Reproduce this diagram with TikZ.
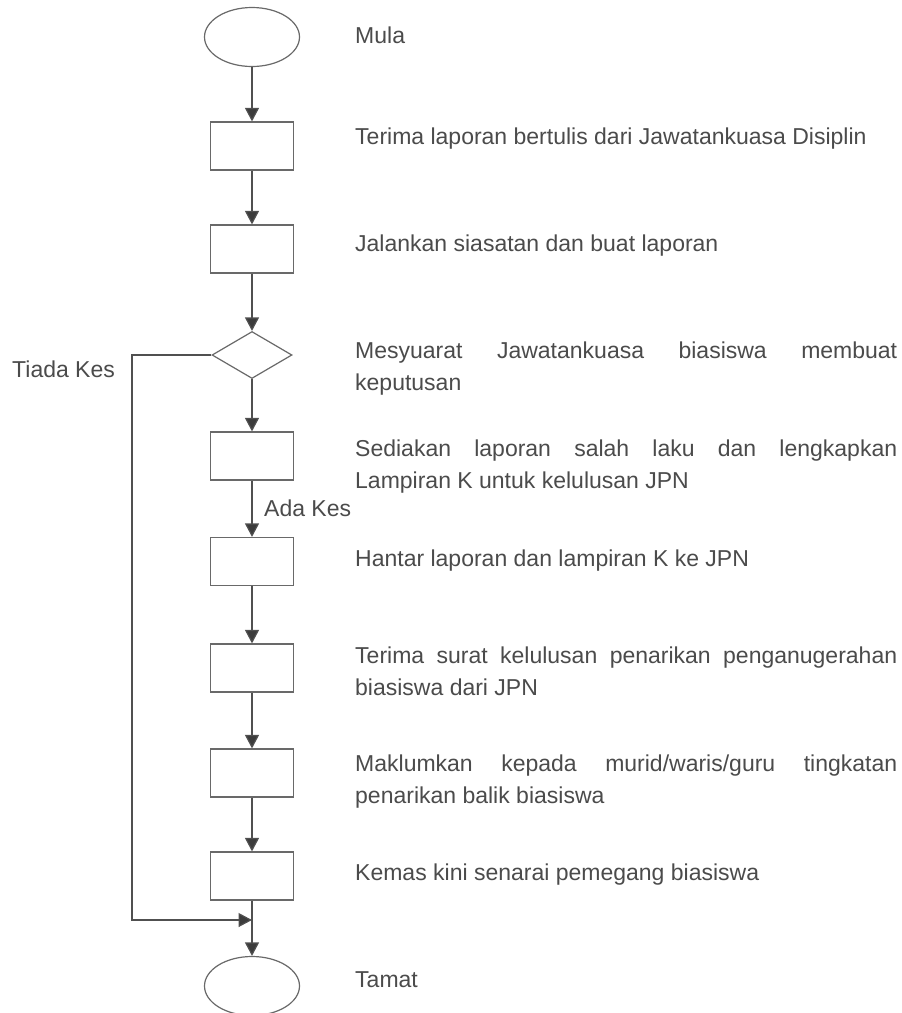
\documentclass[tikz,border=0pt]{standalone}
\usepackage{fontspec}
\setmainfont{Liberation Sans}
\usetikzlibrary{shapes.geometric,arrows.meta}
\definecolor{ln}{RGB}{80,80,80}
\definecolor{bx}{RGB}{105,105,105}
\definecolor{tipc}{RGB}{60,60,60}
\definecolor{txt}{RGB}{75,75,75}
\begin{document}
\begin{tikzpicture}[x=1pt,y=-1pt,
  shp/.style={draw=bx,line width=1.2pt,inner sep=0pt},
  term/.style={shp,ellipse,minimum width=95pt,minimum height=59pt},
  stepbox/.style={shp,rectangle,minimum width=83pt,minimum height=48pt},
  dec/.style={shp,diamond,minimum width=80pt,minimum height=47pt},
  conn/.style={draw=ln,line width=1.2pt,-{Triangle[length=13.5pt,width=14pt,fill=tipc]}},
  lbl/.style={anchor=base west,inner sep=0pt,text=txt,font=\fontsize{23}{32}\selectfont},
  desc/.style={lbl,text width=542pt,align=justify}]
\useasboundingbox (0,0) rectangle (902,1013);
\fill[white] (0,0) rectangle (902,1013);
% shapes
\node[term] (start) at (252,37) {};
\node[stepbox] (b1) at (252,146) {};
\node[stepbox] (b2) at (252,249) {};
\node[dec] (d) at (252,355) {};
\node[stepbox] (b3) at (252,456) {};
\node[stepbox] (b4) at (252,561.5) {};
\node[stepbox] (b5) at (252,668) {};
\node[stepbox] (b6) at (252,773) {};
\node[stepbox] (b7) at (252,876) {};
\node[term] (end) at (252,986) {};
\coordinate (m) at (252,920);
\coordinate (c1) at (132,355);
\coordinate (c2) at (132,920);
% connectors
\draw[conn] (start) -- (b1);
\draw[conn] (b1) -- (b2);
\draw[conn] (b2) -- (d);
\draw[conn] (d) -- (b3);
\draw[conn] (b3) -- (b4);
\draw[conn] (b4) -- (b5);
\draw[conn] (b5) -- (b6);
\draw[conn] (b6) -- (b7);
\draw[conn] (b7) -- (end);
\draw[conn] (d.west) -- (c1) -- (c2) -- (m);
% labels
\node[lbl] (tMula) at (355,43) {Mula};
\node[lbl] (t1) at (355,144) {Terima laporan bertulis dari Jawatankuasa Disiplin};
\node[lbl] (t2) at (355,251) {Jalankan siasatan dan buat laporan};
\node[desc] (t3) at (355,358) {Mesyuarat Jawatankuasa biasiswa membuat\linebreak keputusan};
\node[desc] (t4) at (355,456) {Sediakan laporan salah laku dan lengkapkan\linebreak Lampiran K untuk kelulusan JPN};
\node[lbl] (t5) at (355,566) {Hantar laporan dan lampiran K ke JPN};
\node[desc] (t6) at (355,663) {Terima surat kelulusan penarikan penganugerahan\linebreak biasiswa dari JPN};
\node[desc] (t7) at (355,771) {Maklumkan kepada murid/waris/guru tingkatan\linebreak penarikan balik biasiswa};
\node[lbl] (t8) at (355,880) {Kemas kini senarai pemegang biasiswa};
\node[lbl] (tTamat) at (355,987) {Tamat};
\node[lbl] (tiada) at (12,377) {Tiada Kes};
\node[lbl] (ada) at (264,516) {Ada Kes};
\end{tikzpicture}
\end{document}
